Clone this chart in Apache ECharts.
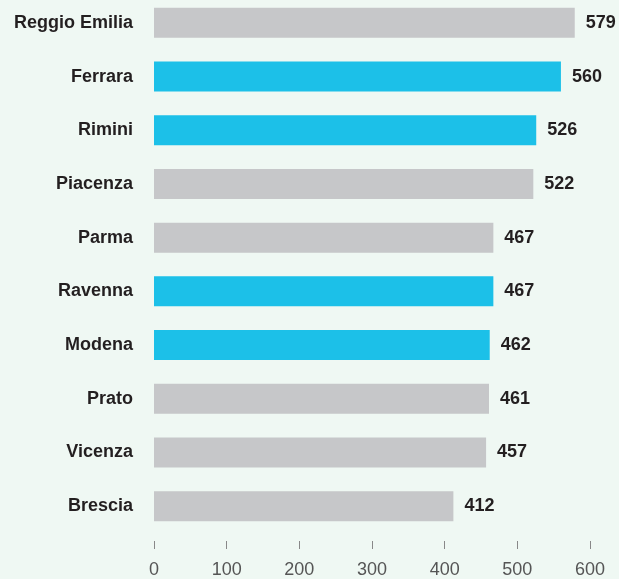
<!DOCTYPE html>
<html>
<head>
<meta charset="utf-8">
<script src="https://cdn.jsdelivr.net/npm/echarts@6/dist/echarts.min.js"></script>
<style>
html,body{margin:0;padding:0;background:#eff8f3;overflow:hidden;}
#c{width:619px;height:583px;position:absolute;left:0;top:-4px;}
</style>
</head>
<body>
<div id="c"></div>
<script>
const categories = ["Reggio Emilia","Ferrara","Rimini","Piacenza","Parma","Ravenna","Modena","Prato","Vicenza","Brescia"];
const values = [579,560,526,522,467,467,462,461,457,412];
const highlighted = [false,true,true,false,false,true,true,false,false,false];
const xTicks = [0,100,200,300,400,500,600];

const FONT = 'Liberation Sans, Arial, Helvetica, sans-serif';
const chart = echarts.init(document.getElementById('c'), null, {renderer:'canvas'});
chart.setOption({
  backgroundColor: '#eff8f3',
  animation: false,
  grid: {left: 154, right: 29, top: 0, bottom: 45, containLabel: false},
  xAxis: {
    type: 'value', min: xTicks[0], max: xTicks[xTicks.length-1], interval: 100,
    offset: 8,
    axisLine: {show: false},
    axisTick: {show: true, length: 8, lineStyle: {color: '#888', width: 1}},
    splitLine: {show: false},
    axisLabel: {margin: 20, fontSize: 18, color: '#555', fontFamily: FONT}
  },
  yAxis: {
    type: 'category', data: categories, inverse: true,
    axisLine: {show: false}, axisTick: {show: false},
    axisLabel: {margin: 21, fontSize: 18, fontWeight: 'bold', color: '#231f20', fontFamily: FONT}
  },
  series: [{
    type: 'bar', barWidth: 30,
    data: values.map((v,i) => ({value: v, itemStyle: {color: highlighted[i] ? '#1cc0e8' : '#c6c7c9'}})),
    label: {show: true, position: 'right', distance: 11, fontSize: 18, fontWeight: 'bold', color: '#231f20', fontFamily: FONT}
  }]
});
</script>
</body>
</html>
